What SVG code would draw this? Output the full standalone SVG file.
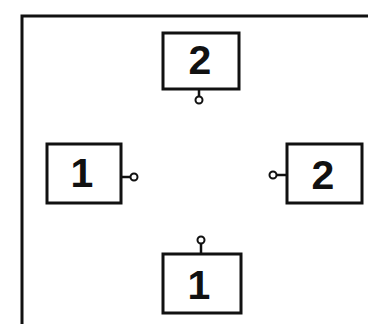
<svg xmlns="http://www.w3.org/2000/svg" width="368" height="324" viewBox="0 0 368 324">
<style>
.box{fill:#fff;stroke:#111;stroke-width:3}
.lbl{font-family:"Liberation Sans",Arial,sans-serif;font-weight:bold;font-size:41px;fill:#111;text-anchor:middle}
.stem{stroke:#111;stroke-width:2.5;fill:none}
.pin{fill:#fff;stroke:#111;stroke-width:2}
</style>
<rect width="368" height="324" fill="#fff"/>
<path d="M22,324 V16 H368" fill="none" stroke="#111" stroke-width="3"/>
<g id="connectors">
<path class="stem" d="M199,89 V96.5"/>
<path class="stem" d="M121,177 H130.5"/>
<path class="stem" d="M287,175 H276.5"/>
<path class="stem" d="M201,254 V243.5"/>
</g>
<g id="node-top">
<rect class="box" x="163" y="33" width="76" height="56"/>
<text class="lbl" x="200" y="74">2</text>
<circle class="pin" cx="199" cy="100" r="3.5"/>
</g>
<g id="node-left">
<rect class="box" x="47" y="144" width="74" height="59"/>
<text class="lbl" x="82" y="187">1</text>
<circle class="pin" cx="134" cy="177" r="3.5"/>
</g>
<g id="node-right">
<rect class="box" x="287" y="144" width="75" height="59"/>
<text class="lbl" x="323" y="189">2</text>
<circle class="pin" cx="273" cy="175" r="3.5"/>
</g>
<g id="node-bottom">
<rect class="box" x="163" y="254" width="78" height="59"/>
<text class="lbl" x="199" y="299">1</text>
<circle class="pin" cx="201" cy="240" r="3.5"/>
</g>
</svg>
